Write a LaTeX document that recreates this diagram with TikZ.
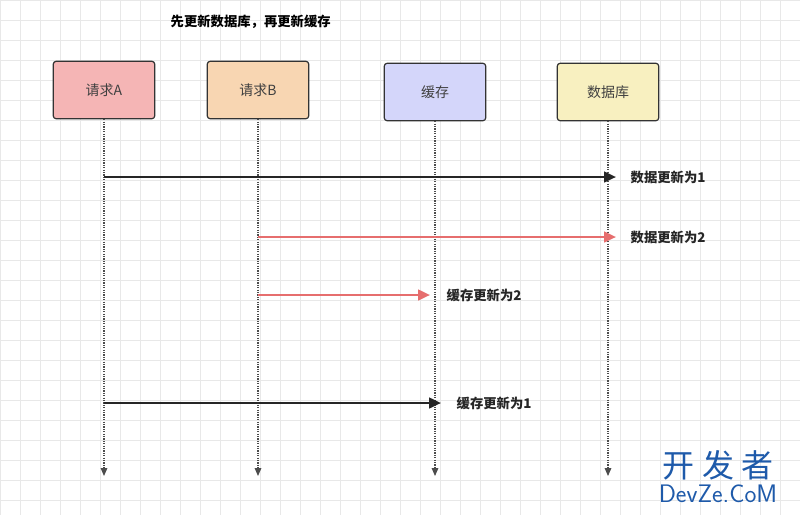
\documentclass[tikz,border=0pt]{standalone}
\usepackage{fontspec}
\newfontfamily\cjk{Noto Sans CJK SC}
\usetikzlibrary{arrows.meta}
\definecolor{gridc}{RGB}{232,232,232}
\definecolor{redarr}{RGB}{230,110,110}
\tikzset{
 x=0.75pt,y=-0.75pt,
 actor/.style={draw=black!80,line width=0.9pt,rounded corners=2pt,minimum width=76pt,minimum height=43pt,font=\cjk\fontsize{10.5}{12}\selectfont,text=black!75},
 life/.style={densely dotted,line width=0.8pt,black!70,-{Triangle[length=6pt,width=5pt]}},
 msg/.style={line width=1.9pt,-{Triangle[length=9pt,width=8pt]}},
 lbl/.style={font=\cjk\bfseries\fontsize{10}{12}\selectfont,anchor=west,text=black!85}
}
\begin{document}
\begin{tikzpicture}
\useasboundingbox (0,0) rectangle (800,515);
\fill[white] (0,0) rectangle (800,515);
\draw[gridc,line width=0.4pt] (0,0) grid[step=15pt] (800,515);
\node[font=\cjk\bfseries\fontsize{10}{12}\selectfont,anchor=west] (t) at (166,22) {先更新数据库，再更新缓存};
\node[actor,fill={rgb,255:red,245;green,181;blue,181}] (A) at (104,90) {请求A};
\node[actor,fill={rgb,255:red,248;green,214;blue,178}] (B) at (258,90) {请求B};
\node[actor,fill={rgb,255:red,212;green,214;blue,250}] (C) at (435,92) {缓存};
\node[actor,fill={rgb,255:red,248;green,240;blue,192}] (D) at (608,92) {数据库};
\coordinate (Ae) at (104,476);\coordinate (Be) at (258,476);
\coordinate (Ce) at (435,476);\coordinate (De) at (608,476);
\draw[life] (A.south) -- (Ae);\draw[life] (B.south) -- (Be);
\draw[life] (C.south) -- (Ce);\draw[life] (D.south) -- (De);
\coordinate (a1) at (104,177);\coordinate (d1) at (616,177);
\draw[msg,black!85] (a1) -- (d1);
\node[lbl] (l1) at (626,177) {数据更新为1};
\coordinate (b2) at (258,237);\coordinate (d2) at (616,237);
\draw[msg,redarr] (b2) -- (d2);
\node[lbl] (l2) at (626,237) {数据更新为2};
\coordinate (b3) at (258,295);\coordinate (c3) at (430,295);
\draw[msg,redarr] (b3) -- (c3);
\node[lbl] (l3) at (442,295) {缓存更新为2};
\coordinate (a4) at (104,403);\coordinate (c4) at (441,403);
\draw[msg,black!85] (a4) -- (c4);
\node[lbl] (l4) at (452,403) {缓存更新为1};
\node[font=\cjk\fontsize{24}{26}\selectfont,text={rgb,255:red,30;green,90;blue,170}] (w1) at (718,465) {开 发 者};
\node[font=\sffamily\fontsize{19}{21}\selectfont,text={rgb,255:red,30;green,90;blue,170}] (w2) at (718,494) {DevZe.CoM};
\end{tikzpicture}
\end{document}
